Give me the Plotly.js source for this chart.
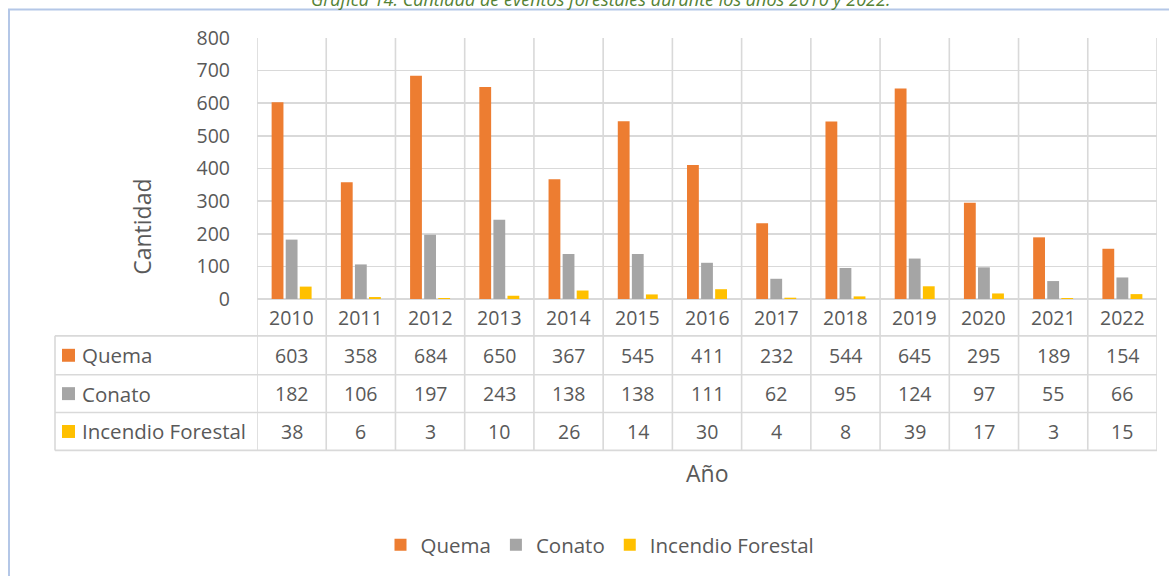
<!DOCTYPE html>
<html>
<head>
<meta charset="utf-8">
<script src="https://cdn.plot.ly/plotly-3.0.1.min.js"></script>
<style>
  html, body { margin: 0; padding: 0; background: #fff; }
  #chart { width: 1169px; height: 576px; }
</style>
</head>
<body>
<div id="chart"></div>
<script>
// -------------------- DATA --------------------
const years = ['2010', '2011', '2012', '2013', '2014', '2015', '2016',
               '2017', '2018', '2019', '2020', '2021', '2022'];
const quema = [603, 358, 684, 650, 367, 545, 411, 232, 544, 645, 295, 189, 154];
const conato = [182, 106, 197, 243, 138, 138, 111, 62, 95, 124, 97, 55, 66];
const incendio = [38, 6, 3, 10, 26, 14, 30, 4, 8, 39, 17, 3, 15];

const seriesNames = ['Quema', 'Conato', 'Incendio Forestal'];
const seriesColors = ['#ED7D31', '#A5A5A5', '#FFC000'];

// -------------------- GEOMETRY HELPERS --------------------
// plot area: x 257..1157, y 38..300 (px)
const PL = 257, PW = 900, PB = 300, PH = 262;
const py = px => (PB - px) / PH;   // pixel y -> paper y
const pxX = px => (px - PL) / PW;  // pixel x -> paper x

const FONT = 'Open Sans';
const TXT = '#595959';
const GRID = '#d9d9d9';

const rowLines = [337, 376, 414, 452].map(py);
const rowCenters = [356.5, 395, 433].map(py);
const tableLeft = pxX(55);

// -------------------- TRACES --------------------
const seriesValues = [quema, conato, incendio];
const traces = seriesValues.map((vals, k) => ({
    type: 'bar',
    x: years,
    y: vals,
    name: seriesNames[k],
    marker: { color: seriesColors[k] },
    hoverinfo: 'x+y+name'
}));

// -------------------- SHAPES --------------------
const shapes = [];
const line = (xref, x0, x1, yref, y0, y1) => shapes.push({
    type: 'line', xref, yref, x0, x1, y0, y1,
    line: { color: GRID, width: 1.6 }, layer: 'below'
});

// vertical category separators (plot + table)
for (let i = 0; i <= years.length; i++) {
    line('x', i - 0.5, i - 0.5, 'paper', rowLines[3], 1);
}
// horizontal table lines
rowLines.forEach(y => line('paper', tableLeft, 1, 'paper', y, y));
// left column border
line('paper', tableLeft, tableLeft, 'paper', rowLines[3], rowLines[0]);

// legend keys inside the table
rowCenters.forEach((y, k) => shapes.push({
    type: 'rect', xref: 'paper', yref: 'paper',
    x0: pxX(62), x1: pxX(75), y0: y - 6.5 / PH, y1: y + 6.5 / PH,
    fillcolor: seriesColors[k], line: { width: 0 }
}));

// outer frame (light blue)
shapes.push({
    type: 'path', xref: 'paper', yref: 'paper',
    path: `M ${pxX(9)} ${py(590)} L ${pxX(9)} ${py(9.5)} L ${pxX(1175)} ${py(9.5)}`,
    line: { color: '#b4c7e7', width: 2 }
});

// -------------------- ANNOTATIONS --------------------
const annotations = [];
rowCenters.forEach((y, k) => {
    annotations.push({
        xref: 'paper', yref: 'paper', x: pxX(80), y,
        xanchor: 'left', yanchor: 'middle', showarrow: false,
        text: seriesNames[k], font: { family: FONT, size: 20.5, color: TXT }
    });
    seriesValues[k].forEach((v, i) => annotations.push({
        xref: 'x', yref: 'paper', x: i, y,
        xanchor: 'center', yanchor: 'middle', showarrow: false,
        text: String(v), font: { family: FONT, size: 19.5, color: TXT }
    }));
});

// year row
years.forEach((yr, i) => annotations.push({
    xref: 'x', yref: 'paper', x: i, y: py(319),
    xanchor: 'center', yanchor: 'middle', showarrow: false,
    text: yr, font: { family: FONT, size: 19.5, color: TXT }
}));

// axis titles
annotations.push({
    xref: 'paper', yref: 'paper', x: pxX(707), y: py(475),
    xanchor: 'center', yanchor: 'middle',
    showarrow: false, text: 'Año',
    font: { family: FONT, size: 23, color: TXT }
});
annotations.push({
    xref: 'paper', yref: 'paper', x: pxX(142), y: py(227.5),
    xanchor: 'center', yanchor: 'middle',
    showarrow: false, text: 'Cantidad', textangle: -90,
    font: { family: FONT, size: 23, color: TXT }
});

// cut-off caption at the very top
annotations.push({
    xref: 'paper', yref: 'paper', x: pxX(600), y: py(-1),
    xanchor: 'center', yanchor: 'middle', showarrow: false,
    text: '<i>Gráfica 14. Cantidad de eventos forestales durante los años 2010 y 2022.</i>',
    font: { family: FONT, size: 18, color: '#548235' }
});

// -------------------- LAYOUT --------------------
const layout = {
    width: 1169,
    height: 576,
    margin: { l: PL, r: 1169 - PL - PW, t: PB - PH, b: 576 - PB, pad: 0 },
    paper_bgcolor: '#fff',
    plot_bgcolor: '#fff',
    font: { family: FONT, color: TXT, size: 18 },
    barmode: 'group',
    bargap: 0.39,
    bargroupgap: 0.16,
    xaxis: {
        type: 'category',
        range: [-0.5, years.length - 0.5],
        showticklabels: false,
        showgrid: false,
        zeroline: false,
        showline: false,
        ticks: ''
    },
    yaxis: {
        range: [0, 800],
        dtick: 100,
        showgrid: true,
        gridcolor: GRID,
        gridwidth: 1.6,
        zeroline: true,
        zerolinecolor: GRID,
        zerolinewidth: 1.6,
        showline: false,
        ticks: '',
        ticklabelstandoff: 26,
        tickfont: { family: FONT, size: 19.5, color: TXT }
    },
    showlegend: true,
    legend: {
        orientation: 'h',
        x: pxX(600), xanchor: 'center',
        y: py(545), yanchor: 'middle',
        font: { family: FONT, size: 20.5, color: TXT },
        itemwidth: 30,
        traceorder: 'normal'
    },
    shapes,
    annotations
};

Plotly.newPlot('chart', traces, layout, { displayModeBar: false, staticPlot: true });
</script>
</body>
</html>
